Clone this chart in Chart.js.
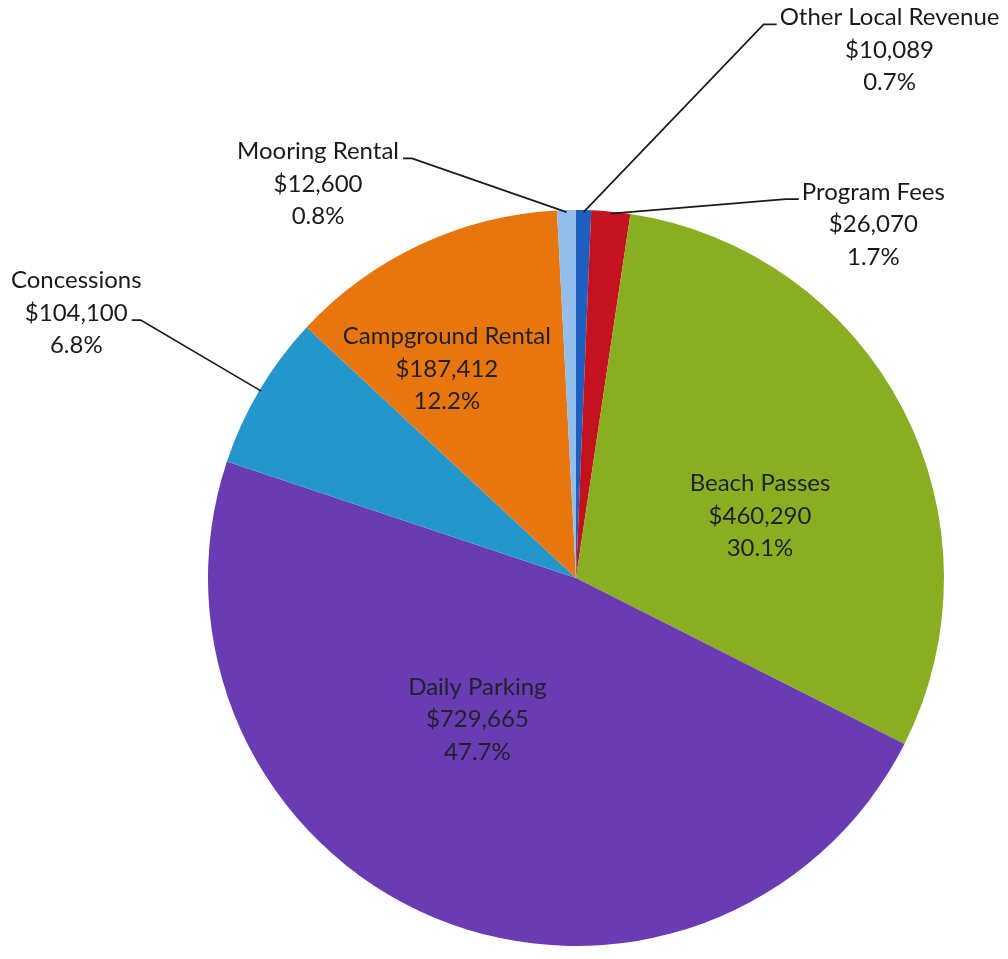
<!DOCTYPE html>
<html>
<head>
<meta charset="utf-8">
<script src="https://cdn.jsdelivr.net/npm/chart.js@4/dist/chart.umd.min.js"></script>
<style>
html, body { margin: 0; padding: 0; background: #fff; }
#wrap { width: 1008px; height: 959px; position: relative; }
</style>
</head>
<body>
<div id="wrap"><canvas id="revenuePie"></canvas></div>
<script>
// revenue by source, clockwise from 12 o'clock
var categories = ["Other Local Revenue", "Program Fees", "Beach Passes", "Daily Parking", "Concessions", "Campground Rental", "Mooring Rental"];
var revenue = [10089, 26070, 460290, 729665, 104100, 187412, 12600];

var sliceColors = ["#1F5FBF", "#C4121F", "#8AAE22", "#6A3CB4", "#2396CC", "#E8760F", "#93BDEB"];

// where each label block sits, in pie radii from the centre;
// leader: which side of which text line the leader line meets (null = no leader)
var labelPlace = [
    { dx: 0.852, dy: -1.435, leader: { side: "left", line: 0 } },
    { dx: 0.808, dy: -0.960, leader: { side: "left", line: 0 } },
    { dx: 0.500, dy: -0.168, leader: null },
    { dx: -0.268, dy: 0.384, leader: null },
    { dx: -1.358, dy: -0.720, leader: { side: "right", line: 1 } },
    { dx: -0.351, dy: -0.568, leader: null },
    { dx: -0.701, dy: -1.071, leader: { side: "right", line: 0 } }
];

var total = revenue.reduce(function (s, v) { return s + v; }, 0);

function money(v) {
    return "$" + v.toLocaleString("en-US");
}

var pieLabels = {
    id: "pieLabels",
    afterDatasetsDraw: function (chart) {
        var ctx = chart.ctx;
        var arcs = chart.getDatasetMeta(0).data;
        var lineH = 32.5;
        ctx.save();
        ctx.font = "24px Lato";
        ctx.textAlign = "center";
        ctx.textBaseline = "middle";
        arcs.forEach(function (arc, i) {
            var p = arc.getProps(["x", "y", "startAngle", "endAngle", "outerRadius"], true);
            var r = p.outerRadius;
            var lines = [categories[i], money(revenue[i]), (revenue[i] / total * 100).toFixed(1) + "%"];
            var cx = p.x + labelPlace[i].dx * r;
            var cy = p.y + labelPlace[i].dy * r;
            var inside = labelPlace[i].leader === null;
            ctx.fillStyle = inside ? "#22222c" : "#1a1a1a";
            lines.forEach(function (t, k) {
                ctx.fillText(t, cx, cy + (k - 1) * lineH);
            });

            var ld = labelPlace[i].leader;
            if (ld) {
                var mid = (p.startAngle + p.endAngle) / 2;
                var ax = p.x + Math.cos(mid) * (r - 2);
                var ay = p.y + Math.sin(mid) * (r - 2);
                var w = ctx.measureText(lines[ld.line]).width;
                var ly = cy + (ld.line - 1) * lineH + 7;
                var ex, bx;
                if (ld.side === "left") {
                    ex = cx - w / 2 - 3;
                    bx = ex - 13;
                } else {
                    ex = cx + w / 2 + 4;
                    bx = ex + 9;
                }
                ctx.beginPath();
                ctx.strokeStyle = "#1a1a1a";
                ctx.lineWidth = 1.7;
                ctx.moveTo(ex, ly);
                ctx.lineTo(bx, ly);
                ctx.lineTo(ax, ay);
                ctx.stroke();
            }
        });
        ctx.restore();
    }
};

new Chart(document.getElementById("revenuePie"), {
    type: "pie",
    data: {
        labels: categories,
        datasets: [{
            data: revenue,
            backgroundColor: sliceColors,
            borderWidth: 0
        }]
    },
    options: {
        responsive: true,
        maintainAspectRatio: false,
        animation: false,
        layout: { padding: { left: 208, right: 64, top: 210, bottom: 13 } },
        plugins: {
            legend: { display: false },
            tooltip: { enabled: false }
        }
    },
    plugins: [pieLabels]
});
</script>
</body>
</html>
